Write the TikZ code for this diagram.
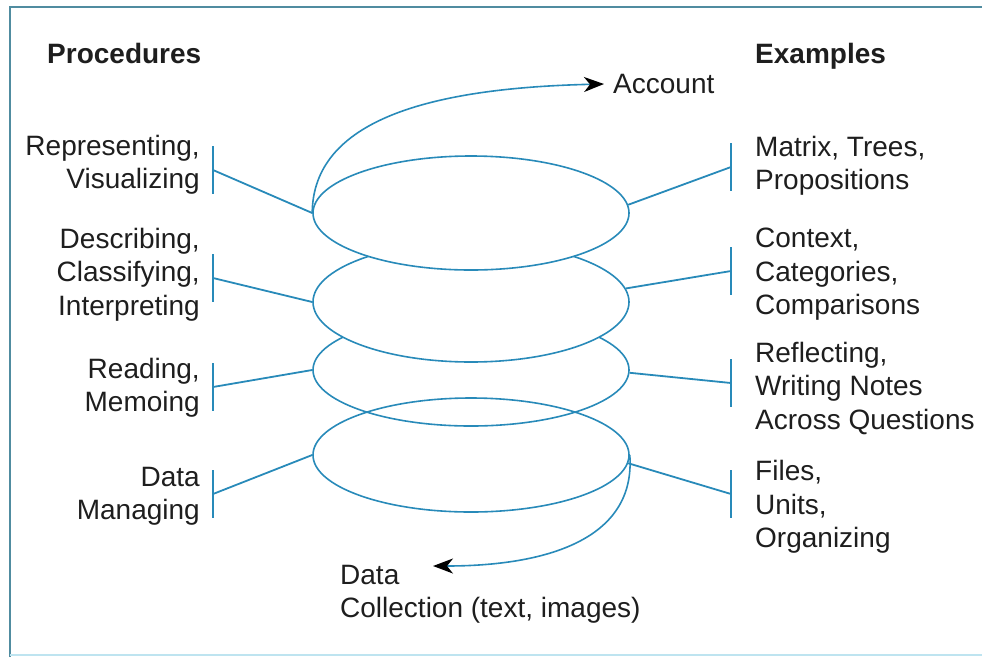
\documentclass[tikz,border=0pt]{standalone}
\usepackage{fontspec}
\setmainfont{Liberation Sans}
\usetikzlibrary{shapes.geometric,arrows.meta}
\definecolor{lineblue}{RGB}{40,138,185}
\definecolor{framec}{RGB}{80,140,160}
\definecolor{framelight}{RGB}{190,228,240}
\definecolor{txt}{RGB}{30,30,30}
\begin{document}
\begin{tikzpicture}[x=1pt,y=-1pt,
  lab/.style={inner sep=0pt,text=txt,font=\fontsize{28}{33.5}\selectfont},
  labl/.style={lab,anchor=north east,align=right},
  labr/.style={lab,anchor=north west,align=left},
  head/.style={lab,anchor=north west,font=\fontsize{28}{33.5}\selectfont\bfseries},
  ring/.style={ellipse,draw=lineblue,line width=1.6pt,inner sep=0pt,minimum width=316pt},
  conn/.style={draw=lineblue,line width=1.8pt},
  spiral/.style={draw=lineblue,line width=1.6pt},
  tip/.style={-{Stealth[length=20pt,width=15pt,inset=6pt,black]}}
]
\useasboundingbox (0,0) rectangle (982,657);
% frame
\draw[framec,line width=1.6pt] (10,657) -- (10,7) -- (982,7);
\draw[framelight,line width=1.4pt] (10,655) -- (982,655);

% headers
\node[head] (proc) at (47,43) {Procedures};
\node[head] (exam) at (755,43) {Examples};
\node[lab,anchor=west] (acc) at (613,84) {Account};

% rings (drawing order gives the spiral overlap)
\node[ring,fill=white,minimum height=112pt] (E3) at (471,370) {};
\node[ring,minimum height=114pt] (E4) at (471,455) {};
\node[ring,fill=white,minimum height=120pt] (E2) at (471,302) {};
\node[ring,fill=white,minimum height=114pt] (E1) at (471,213) {};

% spiral ends
\coordinate (dc) at (433,566);
\path[spiral,tip] (E1.west) .. controls (313,120) and (430,88) .. ([xshift=-9pt]acc.west);
\path[spiral,tip] (E4.east) .. controls (636,540) and (545,566) .. (dc);

% left labels
\node[labl] (p1) at (200,135) {Representing,\\Visualizing};
\node[labl] (p2) at (200,228) {Describing,\\Classifying,\\Interpreting};
\node[labl] (p3) at (200,358) {Reading,\\Memoing};
\node[labl] (p4) at (200,467) {Data\\Managing};

% right labels
\node[labr] (x1) at (755,136) {Matrix, Trees,\\Propositions};
\node[labr] (x2) at (755,228) {Context,\\Categories,\\Comparisons};
\node[labr] (x3) at (755,342) {Reflecting,\\Writing Notes\\Across Questions};
\node[labr] (x4) at (755,460) {Files,\\Units,\\Organizing};

% bottom label
\node[labr] (dcl) at (340,565) {Data\\Collection (text, images)};

% bars
\foreach \n/\x/\y in {l1/213/170,l2/213/278,l3/213/387,l4/213/494,
                      r1/731/167,r2/731/271,r3/731/383,r4/731/494}{
  \coordinate (\n) at (\x,\y);
  \draw[conn] ([yshift=24pt]\n) -- ([yshift=-24pt]\n);
}

% connectors
\draw[conn] (l1) -- (E1.west);
\draw[conn] (l2) -- (E2.west);
\draw[conn] (l3) -- (E3.west);
\draw[conn] (l4) -- (E4.west);
\draw[conn] (r1) -- (E1.3);
\draw[conn] (r2) -- (E2.5);
\draw[conn] (r3) -- (E3.-1);
\draw[conn] (r4) -- (E4.-3);
\end{tikzpicture}
\end{document}
